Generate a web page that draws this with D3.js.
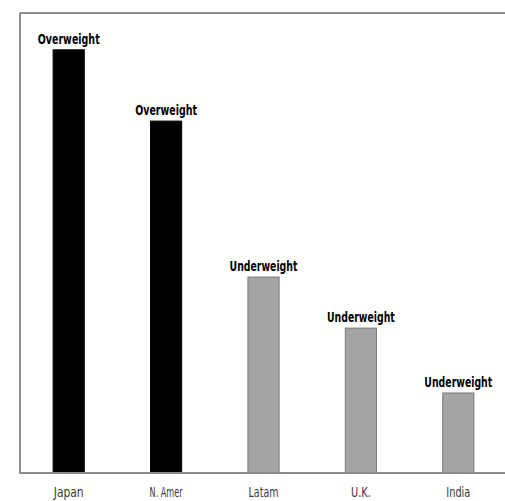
<!DOCTYPE html>
<html>
<head>
<meta charset="utf-8">
<script src="https://cdn.jsdelivr.net/npm/d3@7"></script>
<style>
  html, body { margin: 0; padding: 0; background: #fff; overflow: hidden; }
  svg { display: block; }
</style>
</head>
<body>
<script>
// Regional positioning
const regions = ["Japan", "N. Amer", "Latam", "U.K.", "India"];
const scores = [92, 76.5, 42.6, 31.5, 17.4];
const stances = ["Overweight", "Overweight", "Underweight", "Underweight", "Underweight"];

const W = 505, H = 501;
const frame = { left: 20, top: 13, right: 507, bottom: 473 };
const narrow = "'DejaVu Sans', sans-serif";

const svg = d3.select("body").append("svg")
  .attr("width", W).attr("height", H);

const x = d3.scaleBand()
  .domain(regions)
  .range([frame.left, frame.right])
  .paddingInner(0.68)
  .paddingOuter(0.34);

const y = d3.scaleLinear()
  .domain([0, 100])
  .range([frame.bottom, frame.top]);

const fill = d3.scaleOrdinal()
  .domain(["Overweight", "Underweight"])
  .range(["#000000", "#a5a5a5"]);
const edge = d3.scaleOrdinal()
  .domain(["Overweight", "Underweight"])
  .range(["#000000", "#7a7a7a"]);

// squeeze a text horizontally around its anchor so it spans `width` px
function condense(sel, width) {
  sel.each(function (d) {
    const t = d3.select(this);
    const natural = this.getComputedTextLength();
    const w = typeof width === "function" ? width(d) : width;
    const px = +t.attr("x") || 0, py = +t.attr("y") || 0;
    const sx = w / natural;
    t.attr("transform", `translate(${px},${py}) scale(${sx},1) translate(${-px},${-py})`);
  });
}

// plot frame: top and left borders
svg.append("line")
  .attr("x1", frame.left).attr("x2", W)
  .attr("y1", frame.top).attr("y2", frame.top)
  .attr("stroke", "#8c8c8c").attr("stroke-width", 2);
svg.append("line")
  .attr("x1", frame.left).attr("x2", frame.left)
  .attr("y1", frame.top).attr("y2", frame.bottom)
  .attr("stroke", "#8c8c8c").attr("stroke-width", 2);

const data = regions.map((r, i) => ({ region: r, score: scores[i], stance: stances[i] }));

svg.selectAll("rect.bar")
  .data(data)
  .join("rect")
  .attr("class", "bar")
  .attr("x", d => x(d.region))
  .attr("width", x.bandwidth())
  .attr("y", d => y(d.score))
  .attr("height", d => y(0) - y(d.score))
  .attr("fill", d => fill(d.stance))
  .attr("stroke", d => edge(d.stance))
  .attr("stroke-width", 1);

// stance labels above each bar
svg.selectAll("text.stance")
  .data(data)
  .join("text")
  .attr("class", "stance")
  .attr("x", d => x(d.region) + x.bandwidth() / 2)
  .attr("y", d => y(d.score) - 6)
  .attr("text-anchor", "middle")
  .attr("font-family", narrow)
  .attr("font-weight", "bold")
  .attr("font-size", 14)
  .attr("fill", "#000")
  .text(d => d.stance)
  .call(condense, d => d.stance === "Overweight" ? 62 : 68);

// category axis along the bottom
const labelWidth = { "Japan": 30, "N. Amer": 33, "Latam": 30, "U.K.": 20, "India": 24 };
const xAxis = d3.axisBottom(x).tickSize(0).tickPadding(14);
const gx = svg.append("g")
  .attr("transform", `translate(0,${frame.bottom})`)
  .call(xAxis);
gx.select(".domain").remove();
svg.append("line")
  .attr("x1", frame.left - 1).attr("x2", W)
  .attr("y1", frame.bottom).attr("y2", frame.bottom)
  .attr("stroke", "#8c8c8c").attr("stroke-width", 2);
gx.selectAll("text")
  .attr("font-family", narrow)
  .attr("font-size", 14)
  .attr("fill", "#3a3a3a")
  .call(condense, d => labelWidth[d]);
</script>
</body>
</html>
